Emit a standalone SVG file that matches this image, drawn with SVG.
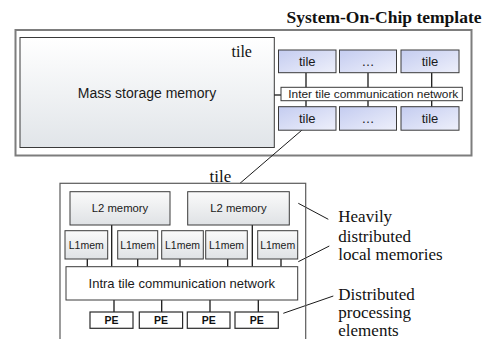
<svg xmlns="http://www.w3.org/2000/svg" width="485" height="339" viewBox="0 0 485 339">
  <defs>
    <linearGradient id="gMass" x1="0" y1="0" x2="0" y2="1">
      <stop offset="0" stop-color="#ffffff"/>
      <stop offset="1" stop-color="#e1e5e9"/>
    </linearGradient>
    <linearGradient id="gTile" x1="0" y1="0" x2="1" y2="1">
      <stop offset="0" stop-color="#c4ccf0"/>
      <stop offset="1" stop-color="#eef0fb"/>
    </linearGradient>
    <linearGradient id="gMem" x1="0" y1="0" x2="0" y2="1">
      <stop offset="0" stop-color="#fafafa"/>
      <stop offset="1" stop-color="#dfe2e5"/>
    </linearGradient>
  </defs>
  <style>
    .sans { font-family: "Liberation Sans", Arial, sans-serif; fill: #1a1a1a; }
    .serif { font-family: "Liberation Serif", "Times New Roman", serif; fill: #111; }
    .note { font-family: "Liberation Serif", "Times New Roman", serif; fill: #111; font-size: 17px; }
    .box { stroke: #3a3a3a; stroke-width: 1; }
    .pe { fill: #ffffff; stroke: #2a2a2a; stroke-width: 1.2; }
    .pe-label { font-family: "Liberation Sans", Arial, sans-serif; font-size: 10.5px; font-weight: bold; fill: #111; text-anchor: middle; }
    .wire { stroke: #1a1a1a; stroke-width: 1.3; fill: none; }
    .lead { stroke: #1a1a1a; stroke-width: 1; fill: none; }
  </style>

  <!-- title -->
  <text class="serif" x="481.5" y="23.3" font-size="17.5" font-weight="bold" text-anchor="end">System-On-Chip template</text>

  <!-- system-on-chip frame -->
  <g id="soc">
    <rect x="15.5" y="30" width="456" height="125.5" fill="#ffffff" stroke="#7d7d7d" stroke-width="2"/>
  </g>

  <g id="mass-storage">
    <rect class="box" x="20" y="37.5" width="254.3" height="110" fill="url(#gMass)"/>
    <text class="serif" x="231.5" y="57" font-size="16">tile</text>
    <text class="sans" x="147" y="98" font-size="14" text-anchor="middle">Mass storage memory</text>
  </g>

  <!-- connectors -->
  <g id="connectors">
    <line class="wire" x1="274.3" y1="95" x2="281" y2="95"/>
    <line class="wire" x1="306" y1="72.7" x2="306" y2="106.7"/>
    <line class="wire" x1="368" y1="72.7" x2="368" y2="106.7"/>
    <line class="wire" x1="431.7" y1="72.7" x2="431.7" y2="106.7"/>
    <line class="lead" x1="311.7" y1="121.7" x2="240" y2="183.3"/>

    <line class="wire" x1="111.7" y1="225" x2="111.7" y2="266.7"/>
    <line class="wire" x1="252.3" y1="225" x2="252.3" y2="266.7"/>
    <line class="wire" x1="87.3" y1="259" x2="87.3" y2="266.7"/>
    <line class="wire" x1="137.7" y1="259" x2="137.7" y2="266.7"/>
    <line class="wire" x1="180" y1="259" x2="180" y2="266.7"/>
    <line class="wire" x1="227.7" y1="259" x2="227.7" y2="266.7"/>
    <line class="wire" x1="281" y1="259" x2="281" y2="266.7"/>
    <line class="wire" x1="114" y1="300" x2="114" y2="312"/>
    <line class="wire" x1="161.7" y1="300" x2="161.7" y2="312"/>
    <line class="wire" x1="210" y1="300" x2="210" y2="312"/>
    <line class="wire" x1="258.3" y1="300" x2="258.3" y2="312"/>

    <line class="lead" x1="298.3" y1="203.3" x2="328.3" y2="219.3"/>
    <line class="lead" x1="298.3" y1="261.7" x2="329.3" y2="246"/>
    <line class="lead" x1="283.3" y1="313.3" x2="333.3" y2="296"/>
  </g>

  <!-- tiles of the SoC -->
  <g id="tile-1">
    <rect class="box" x="278.5" y="50" width="57.5" height="22.7" fill="url(#gTile)"/>
    <text class="sans" x="307.2" y="66" font-size="13" text-anchor="middle">tile</text>
  </g>
  <g id="tile-2">
    <rect class="box" x="339.5" y="50" width="57" height="22.7" fill="url(#gTile)"/>
    <text class="sans" x="368" y="66" font-size="13" text-anchor="middle">…</text>
  </g>
  <g id="tile-3">
    <rect class="box" x="401" y="50" width="58" height="22.7" fill="url(#gTile)"/>
    <text class="sans" x="430" y="66" font-size="13" text-anchor="middle">tile</text>
  </g>
  <g id="inter-network">
    <rect class="box" x="281" y="87.3" width="181.3" height="13.4" fill="#ffffff"/>
    <text class="sans" x="373.3" y="98" font-size="11.5" text-anchor="middle" textLength="170" lengthAdjust="spacingAndGlyphs">Inter tile communication network</text>
  </g>
  <g id="tile-4">
    <rect class="box" x="278.5" y="106.7" width="57.5" height="23.5" fill="url(#gTile)"/>
    <text class="sans" x="307.2" y="123" font-size="13" text-anchor="middle">tile</text>
  </g>
  <g id="tile-5">
    <rect class="box" x="339.5" y="106.7" width="57" height="23.5" fill="url(#gTile)"/>
    <text class="sans" x="368" y="123" font-size="13" text-anchor="middle">…</text>
  </g>
  <g id="tile-6">
    <rect class="box" x="401" y="106.7" width="58" height="23.5" fill="url(#gTile)"/>
    <text class="sans" x="430" y="123" font-size="13" text-anchor="middle">tile</text>
  </g>

  <!-- detailed tile -->
  <g id="tile-detail">
    <rect x="60" y="183.3" width="245.7" height="170" fill="none" stroke="#5a5a5a" stroke-width="1.2"/>
    <text class="serif" x="209.5" y="181.5" font-size="17">tile</text>
  </g>

  <g id="l2-a">
    <rect class="box" x="70" y="191.7" width="100" height="33.3" fill="url(#gMem)"/>
    <text class="sans" x="120" y="212" font-size="11.3" text-anchor="middle">L2 memory</text>
  </g>
  <g id="l2-b">
    <rect class="box" x="187.7" y="191.7" width="101.6" height="33.3" fill="url(#gMem)"/>
    <text class="sans" x="238.5" y="212" font-size="11.3" text-anchor="middle">L2 memory</text>
  </g>

  <g id="l1-1">
    <rect class="box" x="65" y="230.7" width="42.7" height="28.3" fill="url(#gMem)"/>
    <text class="sans" x="86.3" y="248.5" font-size="10.5" text-anchor="middle">L1mem</text>
  </g>
  <g id="l1-2">
    <rect class="box" x="117.7" y="230.7" width="40" height="28.3" fill="url(#gMem)"/>
    <text class="sans" x="137.7" y="248.5" font-size="10.5" text-anchor="middle">L1mem</text>
  </g>
  <g id="l1-3">
    <rect class="box" x="161.7" y="230.7" width="41.6" height="28.3" fill="url(#gMem)"/>
    <text class="sans" x="182.5" y="248.5" font-size="10.5" text-anchor="middle">L1mem</text>
  </g>
  <g id="l1-4">
    <rect class="box" x="205.7" y="230.7" width="41.6" height="28.3" fill="url(#gMem)"/>
    <text class="sans" x="226.5" y="248.5" font-size="10.5" text-anchor="middle">L1mem</text>
  </g>
  <g id="l1-5">
    <rect class="box" x="257.7" y="230.7" width="40" height="28.3" fill="url(#gMem)"/>
    <text class="sans" x="277.7" y="248.5" font-size="10.5" text-anchor="middle">L1mem</text>
  </g>

  <g id="intra-network">
    <rect class="box" x="66" y="266.7" width="231.7" height="33.3" fill="#ffffff"/>
    <text class="sans" x="181.8" y="288" font-size="13" text-anchor="middle">Intra tile communication network</text>
  </g>

  <g id="pe-1">
    <rect class="pe" x="90" y="312" width="43" height="16.3"/>
    <text class="pe-label" x="111.5" y="324">PE</text>
  </g>
  <g id="pe-2">
    <rect class="pe" x="139.3" y="312" width="43.3" height="16.3"/>
    <text class="pe-label" x="161" y="324">PE</text>
  </g>
  <g id="pe-3">
    <rect class="pe" x="187.3" y="312" width="42.7" height="16.3"/>
    <text class="pe-label" x="208.7" y="324">PE</text>
  </g>
  <g id="pe-4">
    <rect class="pe" x="235" y="312" width="43.3" height="16.3"/>
    <text class="pe-label" x="256.7" y="324">PE</text>
  </g>

  <!-- annotations -->
  <g id="note-memories">
    <text class="note" x="338.3" y="221.5">Heavily</text>
    <text class="note" x="338.3" y="241.5">distributed</text>
    <text class="note" x="338.3" y="260">local memories</text>
  </g>
  <g id="note-processing">
    <text class="note" x="338.3" y="300" font-size="16.5">Distributed</text>
    <text class="note" x="338.3" y="318" font-size="16.5">processing</text>
    <text class="note" x="338.3" y="335.5" font-size="16.5">elements</text>
  </g>
</svg>
